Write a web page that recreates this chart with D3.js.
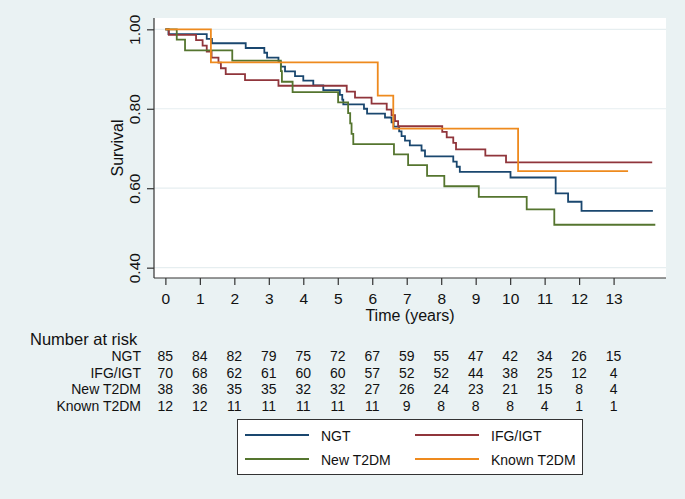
<!DOCTYPE html>
<html><head><meta charset="utf-8">
<script src="https://cdn.jsdelivr.net/npm/d3@7"></script>
<style>body{margin:0;background:#EAF2F3;}svg{display:block;font-family:"Liberation Sans",Arial,sans-serif;}</style>
</head><body>
<svg id="c" width="685" height="499"></svg>
<script>
const groups = ["NGT","IFG/IGT","New T2DM","Known T2DM"];
const colors = ["#1A476F","#90353B","#55752F","#EE8A1E"];
const xTicks = [0,1,2,3,4,5,6,7,8,9,10,11,12,13];
const yTicks = [0.4,0.6,0.8,1.0];
// step curves: [time, survival]
const ngt = [[0,1],[0.09,0.988],[1.2,0.976],[1.35,0.965],[2.33,0.953],[2.87,0.941],[2.95,0.929],[3.28,0.918],[3.35,0.906],[3.47,0.894],[3.76,0.882],[4.0,0.871],[4.29,0.859],[4.58,0.847],[5.06,0.835],[5.13,0.823],[5.16,0.811],[5.76,0.8],[5.85,0.788],[6.37,0.778],[6.56,0.766],[6.62,0.755],[6.78,0.743],[6.85,0.731],[6.95,0.72],[7.09,0.708],[7.43,0.695],[7.53,0.68],[8.35,0.667],[8.45,0.654],[8.54,0.641],[10.01,0.627],[11.32,0.587],[11.68,0.566],[12.07,0.543],[14.14,0.543]];
const ifg = [[0,1],[0.1,0.986],[0.89,0.973],[1.08,0.959],[1.2,0.944],[1.34,0.929],[1.54,0.916],[1.61,0.902],[1.75,0.887],[2.31,0.872],[3.28,0.858],[5.26,0.843],[5.5,0.828],[5.98,0.813],[6.42,0.798],[6.56,0.784],[6.66,0.769],[6.75,0.756],[8.03,0.742],[8.16,0.728],[8.35,0.714],[8.43,0.698],[9.28,0.682],[9.88,0.665],[14.12,0.665]];
const newT2 = [[0,1],[0.33,0.974],[0.57,0.947],[1.94,0.921],[3.35,0.895],[3.38,0.868],[3.69,0.842],[5.01,0.816],[5.3,0.789],[5.36,0.763],[5.4,0.737],[5.45,0.711],[6.63,0.685],[7.04,0.658],[7.59,0.631],[8.09,0.605],[9.09,0.578],[10.48,0.547],[11.28,0.508],[14.21,0.508]];
const knownT2 = [[0,1],[1.32,0.917],[6.16,0.833],[6.61,0.75],[10.23,0.643],[13.42,0.643]];
const curves = [ngt, ifg, newT2, knownT2];
const risk = [
  [85,84,82,79,75,72,67,59,55,47,42,34,26,15],
  [70,68,62,61,60,60,57,52,52,44,38,25,12,4],
  [38,36,35,35,32,32,27,26,24,23,21,15,8,4],
  [12,12,11,11,11,11,11,9,8,8,8,4,1,1]
];

const svg = d3.select("#c");
const L=154,R=666,T=18,B=278;
const x = d3.scaleLinear().domain([-0.33,14.52]).range([L,R]);
const y = d3.scaleLinear().domain([0.374,1.0285]).range([B,T]);

svg.append("rect").attr("width",685).attr("height",499).attr("fill","#EAF2F3");
svg.append("rect").attr("x",L).attr("y",T).attr("width",R-L).attr("height",B-T).attr("fill","#fff");

// gridlines
svg.selectAll(".g").data(yTicks).enter().append("line")
  .attr("x1",L).attr("x2",R).attr("y1",d=>y(d)).attr("y2",d=>y(d))
  .attr("stroke","#E6EEF0").attr("stroke-width",1.2);

// curves
const line = d3.line().x(d=>x(d[0])).y(d=>y(d[1])).curve(d3.curveStepAfter);
curves.forEach((c,i)=>{
  svg.append("path").attr("d",line(c)).attr("fill","none")
    .attr("stroke",colors[i]).attr("stroke-width",1.8);
});

// axes
const yAxis = d3.axisLeft(y).tickValues(yTicks).tickFormat(d3.format(".2f")).tickSize(7).tickSizeOuter(0);
const gy = svg.append("g").attr("transform",`translate(${L},0)`).call(yAxis);
gy.select(".domain").attr("d",`M0,${T}V${B}`);
gy.selectAll("text").attr("transform","rotate(-90)").attr("x",0).attr("y",-14).attr("dy",0)
  .attr("text-anchor","middle").attr("font-size","15.5px").attr("fill","#111").attr("font-family","Liberation Sans, Arial, sans-serif");

const xAxis = d3.axisBottom(x).tickValues(xTicks).tickSize(7).tickSizeOuter(0);
const gx = svg.append("g").attr("transform",`translate(0,${B})`).call(xAxis);
gx.select(".domain").attr("d",`M${L},0H${R}`);
gx.selectAll("text").attr("y",26).attr("dy",0).attr("font-size","15.5px").attr("fill","#111").attr("font-family","Liberation Sans, Arial, sans-serif");
svg.selectAll(".domain, .tick line").attr("stroke","#333").attr("stroke-width",1.2);

// titles
svg.append("text").attr("x",(L+R)/2).attr("y",321).attr("text-anchor","middle")
  .attr("font-size","16px").attr("fill","#111").text("Time (years)");
svg.append("text").attr("transform",`translate(123,${(T+B)/2}) rotate(-90)`).attr("text-anchor","middle")
  .attr("font-size","16px").attr("fill","#111").text("Survival");

// number at risk
svg.append("text").attr("x",30).attr("y",345).attr("font-size","16.5px").attr("fill","#111").text("Number at risk");
const rowY = [361,377.5,394,410.5];
groups.forEach((g,i)=>{
  svg.append("text").attr("x",141).attr("y",rowY[i]).attr("text-anchor","end")
    .attr("font-size","14px").attr("fill","#111").text(g);
  svg.selectAll(null).data(risk[i]).enter().append("text")
    .attr("x",(d,j)=>x(xTicks[j])).attr("y",rowY[i]).attr("text-anchor","middle")
    .attr("font-size","14px").attr("fill","#111").text(d=>d);
});

// legend
svg.append("rect").attr("x",237.5).attr("y",419.5).attr("width",345).attr("height",55)
  .attr("fill","#fff").attr("stroke","#333").attr("stroke-width",1);
const lpos = [[245,435],[415,435],[245,459],[415,459]];
groups.forEach((g,i)=>{
  const [lx,ly]=lpos[i];
  svg.append("line").attr("x1",lx).attr("x2",lx+64).attr("y1",ly).attr("y2",ly)
    .attr("stroke",colors[i]).attr("stroke-width",1.8);
  svg.append("text").attr("x",lx+76).attr("y",ly+5.5).attr("font-size","14px").attr("fill","#111").text(g);
});
</script>
</body></html>
